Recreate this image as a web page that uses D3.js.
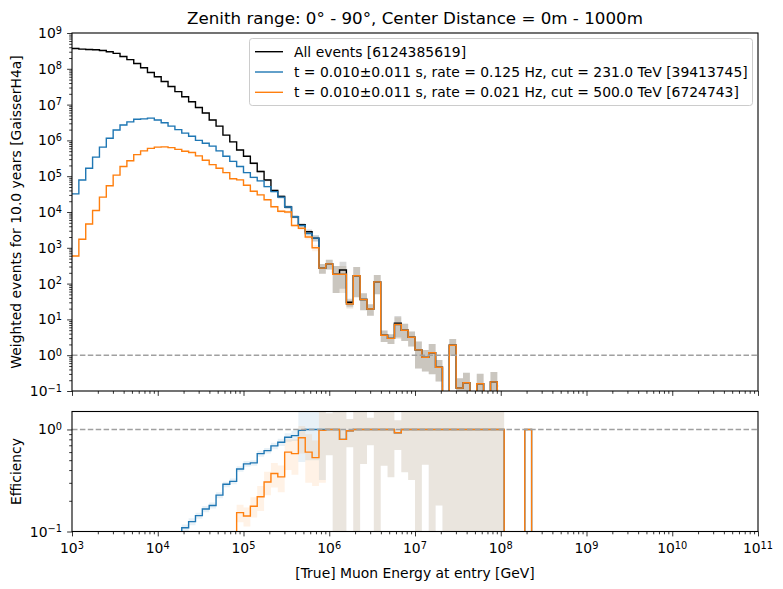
<!DOCTYPE html>
<html>
<head>
<meta charset="utf-8">
<script src="https://cdn.jsdelivr.net/npm/d3@7"></script>
<style>
body { margin: 0; background: #fff; }
text { font-family: "DejaVu Sans", sans-serif; }
</style>
</head>
<body>
<div id="chart"></div>
<script>
// bins: 12.5 per decade starting at 1 TeV
var nBins = 68;
var binEdges = d3.range(nBins + 1).map(function(k) { return Math.pow(10, 3 + 0.08 * k); });

// weighted event counts per bin (10 years)
var allEvents = [3.7e8, 3.55e8, 3.45e8, 3.4e8, 3.25e8, 3.0e8, 2.7e8, 2.2e8, 1.8e8, 1.4e8,
  1.07e8, 7.9e7, 6.0e7, 4.4e7, 3.2e7, 2.3e7, 1.66e7, 1.2e7, 8.3e6, 5.8e6,
  3.7e6, 2.5e6, 1.4e6, 9.1e5, 5.4e5, 3.6e5, 2.3e5, 1.35e5, 7.8e4, 4.0e4,
  2.7e4, 1.38e4, 7.4e3, 4.4e3, 2.8e3, 1.86e3, 270, 355, 182, 240,
  30, 166, 36, 19.5, 112, 3.6, 2.95, 7.8, 5.0, 3.16,
  1.41, 0.87, 1.17, 0.46, 0.05, 1.9, 0.12, 0.17, 0.05, 0.16,
  0.05, 0.18, 0.04, 0.03, 0.02, 0.02, 0.01, 0];
var cut231 = [3.2e4, 7.8e4, 1.66e5, 3.4e5, 6.5e5, 1.15e6, 1.95e6, 2.7e6, 3.3e6, 3.9e6,
  4.0e6, 4.2e6, 3.7e6, 3.1e6, 2.5e6, 2.0e6, 1.6e6, 1.3e6, 1.0e6, 8.3e5,
  6.9e5, 5.1e5, 3.6e5, 2.6e5, 1.86e5, 1.26e5, 9.3e4, 7.4e4, 5.1e4, 3.7e4,
  2.6e4, 1.38e4, 7.4e3, 4.2e3, 2.5e3, 1.86e3, 270, 355, 182, 182,
  27, 166, 36, 19.5, 112, 3.6, 2.95, 7.2, 5.0, 3.16,
  1.41, 0.87, 1.17, 0.46, 0.05, 1.9, 0.12, 0.17, 0.05, 0.16,
  0.05, 0.18, 0.04, 0, 0, 0, 0.01, 0];
var cut500 = [590, 1.74e3, 4.6e3, 1.1e4, 2.6e4, 5.4e4, 1.07e5, 1.86e5, 2.7e5, 4.0e5,
  5.1e5, 6.0e5, 6.5e5, 6.6e5, 6.3e5, 5.6e5, 5.0e5, 4.6e5, 3.7e5, 2.8e5,
  2.1e5, 1.66e5, 1.26e5, 8.5e4, 7.9e4, 5.6e4, 3.8e4, 3.0e4, 2.2e4, 1.4e4,
  1.05e4, 1.0e4, 4.2e3, 3.5e3, 2.0e3, 1.0e3, 270, 355, 182, 182,
  27, 166, 36, 19.5, 112, 3.6, 2.95, 7.2, 5.0, 3.16,
  1.41, 0.87, 1.17, 0.46, 0.05, 1.9, 0.12, 0.17, 0.05, 0.16,
  0.05, 0.18, 0.04, 0, 0, 0, 0.01, 0];
// relative error of the weighted counts
var relErr = [0.04, 0.04, 0.04, 0.04, 0.04, 0.04, 0.04, 0.04, 0.04, 0.04,
  0.04, 0.04, 0.04, 0.04, 0.04, 0.04, 0.04, 0.04, 0.04, 0.04,
  0.05, 0.05, 0.05, 0.05, 0.05, 0.05, 0.07, 0.07, 0.07, 0.07,
  0.1, 0.1, 0.1, 0.1, 0.15, 0.2, 0.3, 0.3, 0.7, 0.7,
  0.25, 0.75, 0.5, 0.35, 0.55, 0.35, 0.3, 0.6, 0.5, 0.45,
  0.7, 0.6, 0.75, 0.6, 0.9, 0.5, 0.9, 0.9, 0.9, 0.9,
  0.9, 0.9, 0.9, 0.9, 0.9, 0.9, 0.9, 0];

// efficiencies
var eff231 = [7.8e-5, 2.1e-4, 4.6e-4, 9.7e-4, 2.0e-3, 3.8e-3, 7.2e-3, 0.012, 0.018, 0.028,
  0.037, 0.053, 0.062, 0.070, 0.078, 0.087, 0.109, 0.125, 0.143, 0.166,
  0.18, 0.227, 0.29, 0.31, 0.41, 0.46, 0.47, 0.58, 0.62, 0.69,
  0.75, 0.84, 0.87, 0.98, 1.0, 1.0, 1.0, 1.0, 1.0, 0.8,
  0.97, 1, 1, 1, 1, 1, 1, 0.93, 1, 1,
  1, 1, 1, 1, 1, 1, 1, 1, 1, 1,
  1, 1, 1, 0, 0, 0, 1, 0];
var eff500 = [1.4e-6, 4.6e-6, 1.3e-5, 3.1e-5, 7.9e-5, 1.8e-4, 4.0e-4, 8.5e-4, 1.5e-3, 2.9e-3,
  4.8e-3, 7.6e-3, 0.011, 0.015, 0.02, 0.024, 0.03, 0.038, 0.045, 0.048,
  0.057, 0.066, 0.09, 0.093, 0.153, 0.142, 0.177, 0.219, 0.306, 0.37,
  0.343, 0.60, 0.58, 0.83, 0.60, 0.53, 0.98, 1, 1, 0.8,
  0.97, 1, 1, 1, 1, 1, 1, 0.93, 1, 1,
  1, 1, 1, 1, 1, 1, 1, 1, 1, 1,
  1, 1, 1, 0, 0, 0, 1, 0];
var eff231Err = [0.002, 0.002, 0.002, 0.002, 0.002, 0.002, 0.002, 0.002, 0.002, 0.002,
  0.002, 0.002, 0.002, 0.002, 0.002, 0.002, 0.008, 0.01, 0.01, 0.012,
  0.012, 0.015, 0.018, 0.02, 0.025, 0.03, 0.03, 0.04, 0.04, 0.05,
  0.06, 0.08, 0.1, 0.5, 0.5, 0.5, 0.68, 0.44, 0.95, 0.95,
  0.3, 0.9, 0.54, 0.3, 0.95, 0.56, 0.66, 0.3, 0.62, 0.68,
  0.95, 0.55, 0.95, 0.82, 0.95, 0.95, 0.95, 0.95, 0.95, 0.95,
  0.95, 0.95, 0.95, 0, 0, 0, 0, 0];
var eff500Err = [0.002, 0.002, 0.002, 0.002, 0.002, 0.002, 0.002, 0.002, 0.002, 0.002,
  0.002, 0.002, 0.002, 0.002, 0.002, 0.002, 0.002, 0.002, 0.002, 0.002,
  0.002, 0.002, 0.005, 0.005, 0.03, 0.03, 0.04, 0.06, 0.08, 0.1,
  0.1, 0.2, 0.22, 0.25, 0.3, 0.25, 0.68, 0.44, 0.95, 0.95,
  0.3, 0.9, 0.54, 0.3, 0.95, 0.56, 0.66, 0.3, 0.62, 0.68,
  0.95, 0.55, 0.95, 0.82, 0.95, 0.95, 0.95, 0.95, 0.95, 0.95,
  0.95, 0.95, 0.95, 0, 0, 0, 0, 0];

var legendLabels = ["All events [6124385619]",
  "t = 0.010\u00b10.011 s, rate = 0.125 Hz, cut = 231.0 TeV [39413745]",
  "t = 0.010\u00b10.011 s, rate = 0.021 Hz, cut = 500.0 TeV [6724743]"];
var colors = ["#000000", "#1f77b4", "#ff7f0e"];

var W = 783, H = 589;
var left = 72, right = 758;
var top1 = 33, bot1 = 391, top2 = 411.5, bot2 = 531.5;
var majorLen = 4.9, minorLen = 2.8;

var svg = d3.select("#chart").append("svg")
  .attr("width", W).attr("height", H);

var x = d3.scaleLog().domain([1e3, 1e11]).range([left, right]);
var y1 = d3.scaleLog().domain([0.1, 1e9]).range([bot1, top1]);
var y2 = d3.scaleLog().domain([0.1, 1.5]).range([bot2, top2]);

var defs = svg.append("defs");
defs.append("clipPath").attr("id", "clip1").append("rect")
  .attr("x", left).attr("y", top1).attr("width", right - left).attr("height", bot1 - top1);
defs.append("clipPath").attr("id", "clip2").append("rect")
  .attr("x", left).attr("y", top2).attr("width", right - left).attr("height", bot2 - top2);

function safe(v) { return v > 0 ? v : 1e-6; }

function stepData(vals) {
  var pts = vals.map(function(v, k) { return {e: binEdges[k], v: v}; });
  pts.push({e: binEdges[vals.length], v: 0});
  return pts;
}
function bandData(vals, errs, rel) {
  var pts = vals.map(function(v, k) {
    var s = rel ? v * errs[k] : errs[k];
    return {e: binEdges[k], lo: v - s, hi: v + s};
  });
  pts.push({e: binEdges[vals.length], lo: pts[pts.length - 1].lo, hi: pts[pts.length - 1].hi});
  return pts;
}

function drawPanel(g, yScale, series, bands) {
  bands.forEach(function(b) {
    g.append("path")
      .datum(b.data)
      .attr("d", d3.area()
        .x(function(d) { return x(d.e); })
        .y0(function(d) { return yScale(safe(d.lo)); })
        .y1(function(d) { return yScale(safe(d.hi)); })
        .curve(d3.curveStepAfter))
      .attr("fill", b.color)
      .attr("fill-opacity", b.alpha);
  });
  series.forEach(function(s) {
    g.append("path")
      .datum(s.data)
      .attr("d", d3.line()
        .x(function(d) { return x(d.e); })
        .y(function(d) { return yScale(safe(d.v)); })
        .curve(d3.curveStepAfter))
      .attr("fill", "none")
      .attr("stroke", s.color)
      .attr("stroke-width", 1.4);
  });
}

// top panel
var g1 = svg.append("g").attr("clip-path", "url(#clip1)");
drawPanel(g1, y1,
  [{data: stepData(allEvents), color: colors[0]},
   {data: stepData(cut231), color: colors[1]},
   {data: stepData(cut500), color: colors[2]}],
  [{data: bandData(allEvents, relErr, true), color: "#000", alpha: 0.15},
   {data: bandData(cut231, relErr, true), color: colors[1], alpha: 0.1},
   {data: bandData(cut500, relErr, true), color: colors[2], alpha: 0.1}]);
g1.append("line")
  .attr("x1", left).attr("x2", right)
  .attr("y1", y1(1)).attr("y2", y1(1))
  .attr("stroke", "#a0a0a0").attr("stroke-width", 1.5)
  .attr("stroke-dasharray", "5.5,2.4");

// bottom panel
var g2 = svg.append("g").attr("clip-path", "url(#clip2)");
drawPanel(g2, y2,
  [{data: stepData(eff231), color: colors[1]},
   {data: stepData(eff500), color: colors[2]}],
  [{data: bandData(eff231, eff231Err, false), color: colors[1], alpha: 0.1},
   {data: bandData(eff500, eff500Err, false), color: colors[2], alpha: 0.1}]);
g2.append("line")
  .attr("x1", left).attr("x2", right)
  .attr("y1", y2(1)).attr("y2", y2(1))
  .attr("stroke", "#a0a0a0").attr("stroke-width", 1.5)
  .attr("stroke-dasharray", "5.5,2.4");

// axes
function minorTicks(lo, hi) {
  var out = [];
  for (var p = Math.floor(Math.log10(lo)); p <= Math.ceil(Math.log10(hi)); p++) {
    for (var m = 2; m <= 9; m++) {
      var v = m * Math.pow(10, p);
      if (v >= lo && v <= hi) out.push(v);
    }
  }
  return out;
}
function powLabel(sel, p) {
  sel.append("tspan").text("10");
  sel.append("tspan").attr("dy", "-0.45em").attr("font-size", "9.8px")
    .text(p < 0 ? "\u2212" + (-p) : p);
}

var xMajors = d3.range(3, 12).map(function(p) { return Math.pow(10, p); });
var xMinors = minorTicks(1e3, 1e11);

[bot1, bot2].forEach(function(yy, i) {
  var ax = svg.append("g").attr("transform", "translate(0," + yy + ")");
  ax.call(d3.axisBottom(x).tickValues(xMajors).tickSize(majorLen).tickFormat(""));
  var axm = svg.append("g").attr("transform", "translate(0," + yy + ")");
  axm.call(d3.axisBottom(x).tickValues(xMinors).tickSize(minorLen).tickFormat(""));
  [ax, axm].forEach(function(a) { a.select(".domain").remove(); a.selectAll("line").attr("stroke-width", 0.8); });
  if (i === 1) {
    xMajors.forEach(function(v, j) {
      var t = svg.append("text").attr("x", x(v)).attr("y", 553)
        .attr("text-anchor", "middle").attr("font-size", "13.9px");
      powLabel(t, j + 3);
    });
  }
});

function yAxis(yScale, majors, lo, hi) {
  var ax = svg.append("g").attr("transform", "translate(" + left + ",0)");
  ax.call(d3.axisLeft(yScale).tickValues(majors).tickSize(majorLen).tickFormat(""));
  var axm = svg.append("g").attr("transform", "translate(" + left + ",0)");
  axm.call(d3.axisLeft(yScale).tickValues(minorTicks(lo, hi)).tickSize(minorLen).tickFormat(""));
  [ax, axm].forEach(function(a) { a.select(".domain").remove(); a.selectAll("line").attr("stroke-width", 0.8); });
  majors.forEach(function(v) {
    var t = svg.append("text").attr("x", left - 10).attr("y", yScale(v) + 5)
      .attr("text-anchor", "end").attr("font-size", "13.9px");
    powLabel(t, Math.round(Math.log10(v)));
  });
}
yAxis(y1, d3.range(-1, 10).map(function(p) { return Math.pow(10, p); }), 0.1, 1e9);
yAxis(y2, [0.1, 1], 0.1, 1.5);

// frames
[[top1, bot1], [top2, bot2]].forEach(function(r) {
  svg.append("rect").attr("x", left).attr("y", r[0])
    .attr("width", right - left).attr("height", r[1] - r[0])
    .attr("fill", "none").attr("stroke", "#000").attr("stroke-width", 1.1);
});

// texts
svg.append("text").attr("x", (left + right) / 2).attr("y", 24)
  .attr("text-anchor", "middle").attr("font-size", "16.7px")
  .text("Zenith range: 0\u00b0 - 90\u00b0, Center Distance = 0m - 1000m");
svg.append("text").attr("transform", "translate(21," + (top1 + bot1) / 2 + ") rotate(-90)")
  .attr("text-anchor", "middle").attr("font-size", "13.9px")
  .text("Weighted events for 10.0 years [GaisserH4a]");
svg.append("text").attr("transform", "translate(21," + (top2 + bot2) / 2 + ") rotate(-90)")
  .attr("text-anchor", "middle").attr("font-size", "13.9px")
  .text("Efficiency");
svg.append("text").attr("x", (left + right) / 2).attr("y", 578)
  .attr("text-anchor", "middle").attr("font-size", "13.9px")
  .text("[True] Muon Energy at entry [GeV]");

// legend
var lg = svg.append("g");
lg.append("rect").attr("x", 249.5).attr("y", 38.5).attr("width", 503).attr("height", 67)
  .attr("rx", 2.8).attr("fill", "#fff").attr("fill-opacity", 0.8)
  .attr("stroke", "#cccccc").attr("stroke-width", 1);
legendLabels.forEach(function(lab, i) {
  var yy = 51.7 + i * 20.3;
  lg.append("line").attr("x1", 255).attr("x2", 283).attr("y1", yy).attr("y2", yy)
    .attr("stroke", colors[i]).attr("stroke-width", 1.4);
  lg.append("text").attr("x", 294).attr("y", yy + 5).attr("font-size", "13.9px").text(lab);
});
</script>
</body>
</html>
